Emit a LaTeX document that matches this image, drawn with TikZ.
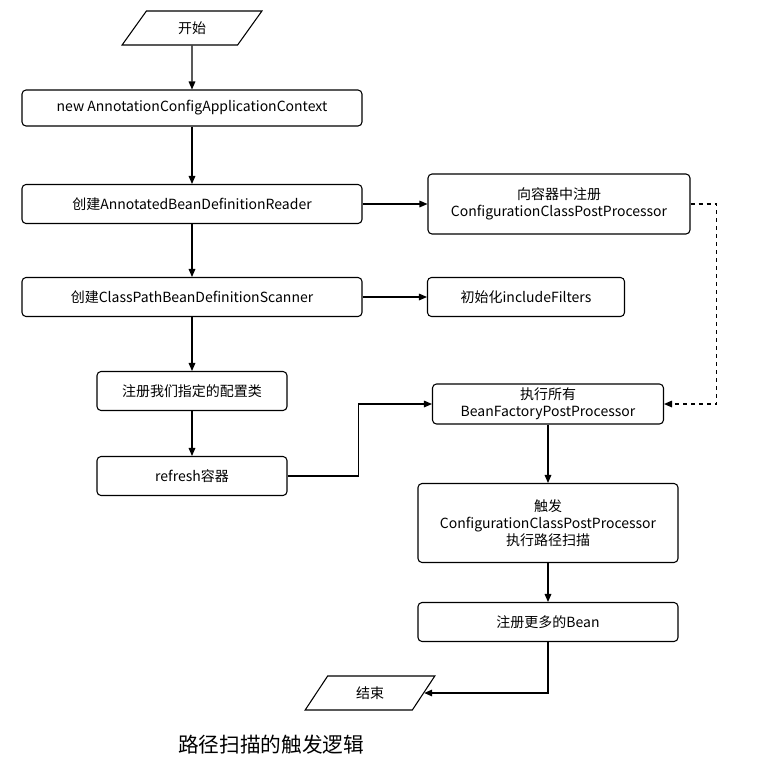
\documentclass[tikz,border=0pt]{standalone}
\usepackage{fontspec}
\setmainfont{Noto Sans CJK SC}
\usetikzlibrary{shapes.geometric,arrows.meta}

\begin{document}
\begin{tikzpicture}[x=0.75pt,y=-0.75pt,
	box/.style={draw,rounded corners=3pt,line width=0.8pt,align=center,inner sep=0pt,font=\fontsize{10.5}{13}\selectfont},
	term/.style={draw,trapezium,trapezium left angle=60,trapezium right angle=120,trapezium stretches=true,line width=0.8pt,inner sep=0pt,font=\fontsize{10.5}{13}\selectfont},
	flow/.style={-{Triangle[length=6pt,width=5pt]},line width=0.8pt}]

	\useasboundingbox (0,0) rectangle (772,776);
	\fill[white] (0,0) rectangle (772,776);

	% left column
	\node[term,minimum width=105pt,minimum height=25.5pt] (start) at (192,28) {开始};
	\node[box,minimum width=255pt,minimum height=27pt] (ctx) at (192,108) {new AnnotationConfigApplicationContext};
	\node[box,minimum width=255pt,minimum height=29.25pt] (reader) at (192,204) {创建AnnotatedBeanDefinitionReader};
	\node[box,minimum width=255pt,minimum height=29.25pt] (scanner) at (192,297) {创建ClassPathBeanDefinitionScanner};
	\node[box,minimum width=142.5pt,minimum height=29.25pt] (config) at (192,391) {注册我们指定的配置类};
	\node[box,minimum width=142.5pt,minimum height=29.25pt] (refresh) at (192,476) {refresh容器};

	% right column
	\node[box,minimum width=196.5pt,minimum height=45pt] (ccpp) at (559,204) {向容器中注册\\ConfigurationClassPostProcessor};
	\node[box,minimum width=147.75pt,minimum height=29.25pt] (filters) at (526,297) {初始化includeFilters};
	\node[box,minimum width=173.25pt,minimum height=30pt] (bfpp) at (548,404) {执行所有\\BeanFactoryPostProcessor};
	\node[box,minimum width=195pt,minimum height=59.25pt] (scan) at (548,523) {触发\\ConfigurationClassPostProcessor\\执行路径扫描};
	\node[box,minimum width=195pt,minimum height=29.25pt] (more) at (548,622) {注册更多的Bean};
	\node[term,minimum width=97.5pt,minimum height=25.5pt] (end) at (370,693) {结束};

	\node[font=\fontsize{15.5}{18}\selectfont] (caption) at (271,745) {路径扫描的触发逻辑};

	% connectors
	\draw[flow] (start) -- (ctx);
	\draw[flow] (ctx) -- (reader);
	\draw[flow] (reader) -- (scanner);
	\draw[flow] (scanner) -- (config);
	\draw[flow] (config) -- (refresh);
	\draw[flow] (reader) -- (ccpp);
	\draw[flow] (scanner) -- (filters);
	\draw[flow,dashed] (ccpp.east) -- ++(26,0) |- (bfpp.east);
	\draw[flow] (refresh.east) -- ++(71,0) |- (bfpp.west);
	\draw[flow] (bfpp) -- (scan);
	\draw[flow] (scan) -- (more);
	\draw[flow] (more.south) |- (end.east);
\end{tikzpicture}
\end{document}
